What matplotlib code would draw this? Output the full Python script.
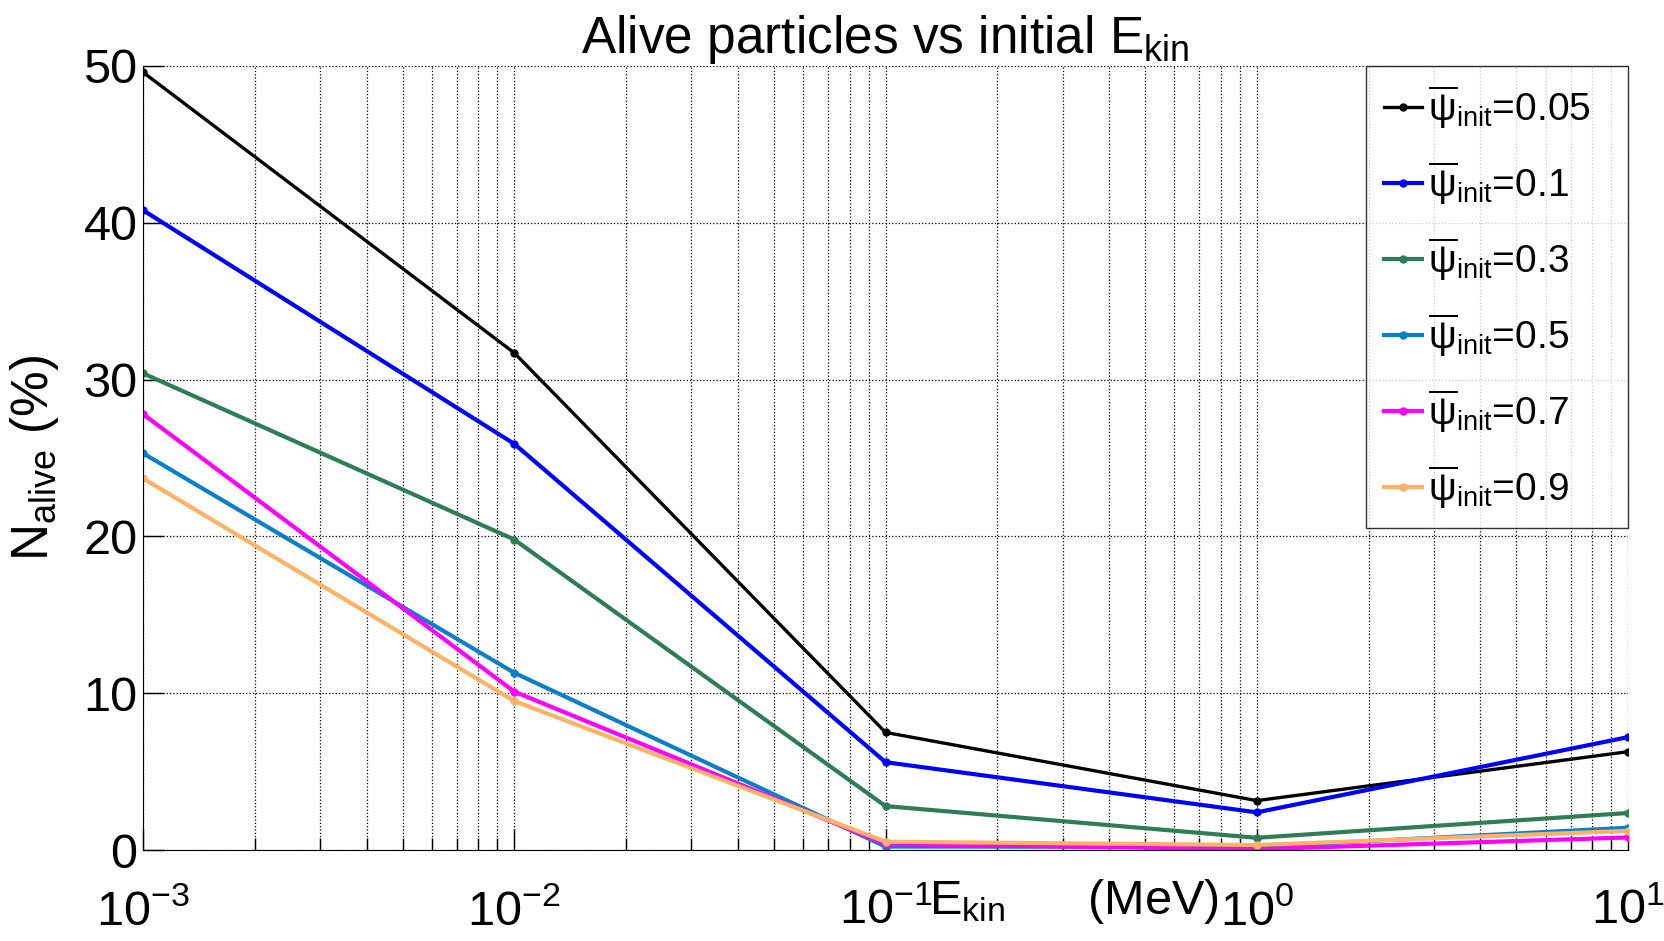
import numpy as np
import matplotlib
matplotlib.use("Agg")
import matplotlib.pyplot as plt
from matplotlib.ticker import LogLocator, NullFormatter

plt.rcParams['font.family'] = ['Liberation Sans', 'DejaVu Sans']
plt.rcParams['mathtext.fontset'] = 'custom'
plt.rcParams['mathtext.rm'] = 'Liberation Sans'
plt.rcParams['mathtext.it'] = 'Liberation Sans'
plt.rcParams['mathtext.bf'] = 'Liberation Sans:bold'

# initial kinetic energy (MeV)
e_kin = [1e-3, 1e-2, 1e-1, 1e0, 1e1]

# alive particles (%) for each initial psi
psi_labels = ["0.05", "0.1", "0.3", "0.5", "0.7", "0.9"]
alive_005 = [49.6, 31.7, 7.5, 3.15, 6.27]
alive_01 = [40.8, 25.9, 5.6, 2.4, 7.2]
alive_03 = [30.4, 19.8, 2.8, 0.78, 2.36]
alive_05 = [25.3, 11.3, 0.22, 0.2, 1.42]
alive_07 = [27.8, 10.1, 0.38, 0.05, 0.8]
alive_09 = [23.7, 9.5, 0.53, 0.32, 1.22]

series = [alive_005, alive_01, alive_03, alive_05, alive_07, alive_09]
colors = ["#000000", "#0000ff", "#2e7d55", "#0b80c8", "#ff00ff", "#ffb266"]
widths = [2.4, 3.0, 3.0, 3.0, 3.0, 3.0]

fig = plt.figure(figsize=(16.65, 9.41), dpi=100)
ax = fig.add_axes([0.0859, 0.0967, 0.8919, 0.8332])

for vals, lab, c, lw in zip(series, psi_labels, colors, widths):
    ax.plot(e_kin, vals, '.-', color=c, lw=lw, ms=10,
            label=r'$\overline{\psi}_{\mathrm{init}}$=' + lab)

ax.set_xscale('log')
ax.set_xlim(1e-3, 1e1)
ax.set_ylim(0, 50)
ax.set_yticks([0, 10, 20, 30, 40, 50])
ax.xaxis.set_minor_locator(LogLocator(base=10, subs=np.arange(2, 10)))
ax.xaxis.set_minor_formatter(NullFormatter())

ax.grid(True, which='major', axis='both', color='black', ls=':', lw=0.9)
ax.grid(True, which='minor', axis='x', color='black', ls=':', lw=0.9)
ax.spines['top'].set_visible(False)
ax.spines['right'].set_visible(False)
ax.tick_params(which='major', direction='in', length=15, width=1, labelsize=35)
ax.tick_params(which='minor', direction='in', length=9, width=1)
ax.tick_params(axis='y', pad=4)
ax.tick_params(axis='x', pad=28)

ax.set_title(r'Alive particles vs initial E$_{\mathrm{kin}}$', fontsize=37, pad=0)
ax.set_ylabel(r'N$_{\mathrm{alive}}$ (%)', fontsize=37, labelpad=16)
ax.set_xlabel(r'E$_{\mathrm{kin}}$      (MeV)', fontsize=35)
ax.xaxis.set_label_coords(0.627, -0.035)

leg = ax.legend(loc='upper left', bbox_to_anchor=(0.8236, 0.0, 0.1764, 1.0),
                mode='expand', fontsize=28, frameon=True, fancybox=False,
                edgecolor='black', borderaxespad=0, handlelength=1.0,
                handletextpad=0.15, labelspacing=0.74, borderpad=0.45)
leg.get_frame().set_linewidth(1.0)

fig.savefig("out.png", dpi=100)
